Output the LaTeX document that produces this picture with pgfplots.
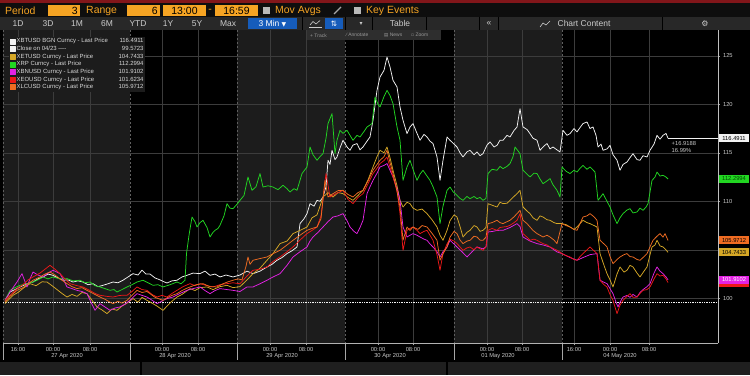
\documentclass[border=0pt]{standalone}
\usepackage{pgfplots}
\pgfplotsset{compat=1.18}
\usepackage{fontspec}
\setmainfont{Liberation Sans}
\newfontfamily\dejavu{DejaVu Sans}
\definecolor{bbgray}{RGB}{28,28,28}
\definecolor{tbone}{RGB}{14,14,14}
\definecolor{tbtwo}{RGB}{40,40,40}
\definecolor{amber}{RGB}{246,164,35}
\definecolor{bblue}{RGB}{22,92,186}
\definecolor{bbred}{RGB}{130,22,26}
\definecolor{cwhite}{RGB}{242,242,242}
\definecolor{cgreen}{RGB}{34,214,34}
\definecolor{cyellow}{RGB}{214,168,38}
\definecolor{cmag}{RGB}{228,34,228}
\definecolor{cred}{RGB}{236,24,24}
\definecolor{corange}{RGB}{240,108,34}
\definecolor{gridc}{RGB}{60,60,60}
\definecolor{sepc}{RGB}{95,95,95}
\definecolor{labc}{RGB}{200,200,200}
\begin{document}
\begin{tikzpicture}
% ---------- background, bands, separators (pixel coordinates, y down)
\begin{scope}[x=1bp,y=-1bp,shift={(0bp,375bp)}]
\useasboundingbox (0,0) rectangle (750,375);
\fill[black] (0,0) rectangle (750,375);
\fill[bbgray] (3,30) rectangle (130,343);
\fill[bbgray] (237,30) rectangle (345,343);
\fill[bbgray] (454,30) rectangle (562,343);
\foreach \xx in {3,130,237,345,454,562}{
  \draw[sepc, dashed, dash pattern=on 2bp off 2bp, line width=0.5pt] (\xx,30) -- (\xx,343);
  \draw[gray!70, line width=0.5pt] (\xx,343) -- (\xx,360);
}
\end{scope}
% ---------- chart
\begin{axis}[
  at={(3bp,32bp)}, anchor=south west,
  scale only axis, width=715bp, height=313bp,
  xmin=3, xmax=718, ymin=95.392, ymax=127.66,
  axis x line*=bottom, axis y line*=right,
  x axis line style={draw=gray!60, line width=0.5pt, -},
  y axis line style={draw=white!75!black, line width=0.6pt, -},
  clip mode=individual,
  xtick={18,53,90,162,198,270,306,378,413,487,522,574,610,649},
  xticklabels={16:00,00:00,08:00,00:00,08:00,00:00,08:00,00:00,08:00,00:00,08:00,16:00,00:00,08:00},
  ytick={100,105,110,115,120,125},
  yticklabels={100,,110,115,120,125},
  tick align=outside, major tick length=2bp,
  tick style={draw=gray!70, line width=0.4pt},
  xmajorgrids, ymajorgrids, grid style={draw=gridc, line width=0.4pt},
  ticklabel style={font=\fontsize{5.8}{6.5}\selectfont, text=labc},
  x tick label style={yshift=1bp},
  y tick label style={xshift=-0.5bp},
  /pgf/number format/assume math mode=true,
  legend style={at={(0.008,0.979)}, anchor=north west, fill=bbgray, draw=none,
    font=\fontsize{6}{7}\selectfont, text=white!85!black,
    inner sep=1bp, row sep=0bp, nodes={inner sep=0.9bp}},
  legend cell align=left,
  legend image code/.code={\fill[solid] (0bp,-2.5bp) rectangle (5bp,2.5bp);},
  every axis plot/.append style={line width=0.75pt, line join=round},
]
\addplot[color=cwhite] coordinates {
(5,99.79)(10,100.65)(15,100.9)(20,101.17)(27,101.5)(33,101.68)(38,102.0)(43,102.20)(48,102.5)(53,102.37)(58,102.1)(63,101.86)(68,101.9)(73,101.68)(78,101.8)(83,101.68)(88,101.4)(93,101.51)(98,101.2)(103,101.34)(108,101.5)(113,101.68)(118,101.6)(123,101.86)(128,102.2)(133,102.54)(138,102.4)(142,102.9)(146,102.5)(150,102.5)(155,102.1)(160,101.9)(164,101.7)(167,101.58)(172,101.8)(177,101.86)(182,102.2)(187,102.37)(193,102.6)(200,102.54)(205,102.8)(210,102.37)(215,102.5)(220,102.2)(226,102.4)(233,102.2)(240,102.4)(247,102.8)(253,102.54)(260,102.8)(267,103.23)(272,103.5)(277,103.92)(282,104.2)(287,104.61)(292,104.9)(297,105.29)(300,107.7)(304,108.2)(307,108.73)(310,109.76)(314,109.5)(317,110.1)(320,110.0)(323,110.44)(326,111.5)(328,114.23)(330,113.8)(332,115.26)(335,114.3)(337,114.57)(340,115.5)(343,116.29)(347,115.6)(350,115.26)(353,115.8)(357,115.95)(360,115.3)(363,115.6)(367,116.2)(370,116.63)(373,118.35)(377,121.44)(380,122.81)(384,123.5)(387,124.88)(390,123.85)(393,122.47)(397,121.79)(400,119.72)(403,118.35)(407,116.98)(410,117.66)(413,118.01)(417,117.0)(420,116.29)(424,116.9)(427,116.63)(430,116.2)(433,115.95)(437,114.57)(440,112.16)(443,114.23)(447,116.63)(450,116.29)(454,115.9)(457,115.6)(460,115.0)(463,114.57)(467,115.1)(470,115.26)(474,114.8)(477,115.09)(480,114.7)(483,114.91)(487,115.8)(490,116.12)(494,115.6)(497,115.77)(500,116.3)(503,116.29)(507,116.8)(510,116.63)(514,117.3)(517,117.66)(520,119.55)(523,117.66)(527,117.4)(530,116.98)(533,116.5)(537,116.29)(540,115.26)(544,115.7)(547,115.95)(550,115.4)(553,115.6)(557,115.3)(560,115.09)(563,117.32)(567,116.8)(570,116.98)(574,117.5)(577,117.15)(580,117.6)(583,118.01)(587,118.18)(590,117.5)(593,117.66)(596,116.8)(598,115.6)(601,115.9)(603,115.26)(607,115.4)(610,115.77)(613,114.8)(617,114.23)(620,113.2)(623,113.8)(627,114.05)(630,114.5)(633,114.91)(637,114.3)(640,114.23)(643,114.7)(647,114.57)(650,115.26)(654,115.9)(657,116.8)(660,116.4)(663,116.8)(666,117.0)(668,116.49)
};
\addlegendentry{\makebox[127bp][l]{XBTUSD BGN Curncy - Last Price\hfill 116.4911}}
\addplot[color=cwhite, densely dotted, line width=0.7pt] coordinates {(3,99.5723) (718,99.5723)};
\addlegendentry{\makebox[127bp][l]{Close on 04/23 ----\hfill 99.5723}}
\addplot[color=cyellow] coordinates {
(5,99.45)(9,99.9)(13,100.31)(18,100.6)(24,101.1)(30,101.51)(36,101.3)(42,101.7)(47,101.68)(52,101.3)(57,100.9)(62,100.5)(67,100.13)(72,100.4)(77,100.2)(82,100.6)(87,100.48)(92,99.8)(97,99.11)(102,98.8)(107,98.42)(112,98.9)(117,98.76)(122,99.2)(127,99.5)(133,99.97)(138,99.6)(142,100.1)(147,99.79)(152,99.5)(157,99.2)(163,98.76)(168,99.3)(172,99.7)(177,100.13)(182,100.4)(186,100.7)(190,101.00)(195,100.8)(200,101.1)(207,101.17)(213,100.9)(220,101.2)(227,101.34)(233,101.1)(240,101.2)(247,101.9)(253,102.54)(260,103.1)(267,103.92)(273,104.6)(280,105.64)(287,105.9)(293,106.67)(300,107.0)(307,107.35)(312,108.3)(317,108.6)(320,109.5)(323,110.44)(328,110.9)(333,110.44)(338,110.9)(343,110.79)(348,110.4)(353,110.10)(358,110.6)(363,111.13)(368,112.2)(373,113.54)(377,114.6)(380,115.26)(384,115.0)(387,115.60)(390,114.5)(393,113.20)(397,111.6)(400,110.10)(403,109.41)(407,109.9)(410,109.76)(413,109.3)(417,109.07)(422,109.2)(427,108.73)(432,108.1)(437,107.35)(440,106.5)(443,105.98)(447,107.0)(450,108.0)(454,108.6)(457,108.38)(460,107.4)(463,106.32)(467,106.8)(470,107.01)(474,107.5)(477,107.35)(480,106.9)(483,107.01)(486,107.3)(488,109.76)(492,109.6)(497,109.41)(500,109.9)(503,109.76)(507,109.8)(510,110.10)(514,110.5)(517,110.79)(520,111.13)(523,109.41)(527,109.0)(530,108.73)(533,108.3)(537,108.04)(540,108.5)(543,108.38)(547,108.1)(550,108.04)(554,107.8)(557,107.70)(562,107.70)(566,107.6)(570,107.35)(574,107.1)(577,107.35)(580,107.7)(583,108.04)(587,107.8)(590,107.70)(594,107.5)(597,107.35)(600,104.61)(604,103.4)(607,102.54)(610,101.9)(613,101.17)(617,102.5)(620,103.23)(624,102.7)(627,102.89)(630,103.4)(633,103.23)(637,102.6)(640,102.20)(644,102.8)(647,103.23)(650,104.5)(652,105.29)(655,105.5)(657,105.98)(660,105.4)(663,105.29)(666,105.0)(668,104.74)
};
\addlegendentry{\makebox[127bp][l]{XETUSD Curncy - Last Price\hfill 104.7433}}
\addplot[color=cgreen] coordinates {
(5,99.79)(10,100.82)(15,101.1)(20,101.34)(27,101.5)(33,101.68)(38,101.9)(43,102.20)(48,102.0)(53,102.20)(60,102.0)(67,102.03)(73,101.8)(80,101.86)(85,101.6)(90,101.68)(95,101.3)(100,101.17)(105,101.0)(110,100.82)(114,100.9)(117,100.65)(122,100.9)(127,101.17)(132,101.4)(137,101.68)(143,101.86)(148,101.6)(153,101.34)(158,101.4)(163,101.17)(170,101.4)(177,101.68)(181,101.5)(185,101.86)(186.5,104.61)(189,106.5)(192,108.38)(195,107.9)(197,107.35)(200,107.8)(203,108.04)(207,107.3)(210,106.32)(213,106.8)(215,107.01)(218,107.2)(220,107.53)(224,108.5)(227,109.76)(230,109.3)(233,109.24)(237,109.7)(240,110.10)(244,110.6)(248,112.51)(252,111.13)(256,111.5)(260,112.86)(263,111.47)(268,111.6)(273,111.47)(278,111.2)(283,111.65)(287,111.3)(290,110.96)(294,111.3)(297,111.13)(302,112.86)(307,113.54)(310,115.60)(313,114.8)(317,114.23)(320,114.6)(323,114.91)(326,116.5)(328,118.01)(332,119.04)(335,114.91)(337,116.3)(340,117.32)(343,117.0)(347,117.32)(350,116.8)(353,116.29)(357,116.8)(360,116.63)(364,117.2)(367,117.66)(372,118.01)(375,120.75)(378,120.0)(380,119.72)(384,120.8)(387,121.44)(390,120.9)(393,120.07)(397,117.66)(400,116.29)(403,112.16)(407,113.54)(410,114.23)(413,113.3)(417,112.16)(420,112.8)(423,113.20)(427,112.6)(430,112.16)(433,111.5)(437,110.44)(440,107.70)(443,109.5)(447,111.13)(450,111.47)(453,111.0)(457,110.62)(460,110.3)(463,110.10)(467,110.5)(470,110.27)(474,110.5)(477,110.27)(480,110.4)(483,110.10)(486,110.3)(488,112.86)(492,113.3)(497,113.20)(500,113.6)(503,113.37)(507,113.6)(510,113.89)(513,114.6)(515,115.60)(518,115.2)(520,114.91)(523,113.20)(527,112.8)(530,112.51)(534,112.9)(537,112.86)(540,112.3)(543,111.82)(547,112.1)(550,112.34)(553,111.7)(557,111.13)(560,110.44)(562,113.54)(566,113.1)(570,112.86)(574,113.2)(577,113.02)(580,113.4)(583,113.71)(587,113.3)(590,113.54)(595,113.02)(598,110.10)(601,110.5)(603,110.79)(607,110.0)(610,109.41)(613,108.6)(617,107.70)(620,108.3)(623,108.73)(627,109.1)(630,109.24)(633,108.8)(637,108.90)(640,109.3)(643,109.07)(646,109.4)(648,109.76)(652,112.16)(655,112.5)(657,113.02)(660,112.6)(663,112.68)(666,112.5)(668,112.30)
};
\addlegendentry{\makebox[127bp][l]{XRP Curncy - Last Price\hfill 112.2994}}
\addplot[color=cmag] coordinates {
(5,99.79)(11,100.8)(17,101.68)(22,102.54)(27,101.17)(30,102.0)(33,102.71)(38,102.4)(43,102.20)(48,102.6)(53,102.89)(57,102.7)(60,102.54)(64,101.8)(67,101.17)(72,101.0)(77,100.82)(82,100.7)(87,100.48)(91,99.6)(95,98.76)(100,99.45)(105,99.1)(110,98.76)(115,99.0)(120,99.11)(125,99.4)(130,99.79)(134,100.2)(137,100.48)(142,100.3)(147,100.13)(152,99.8)(157,99.45)(160,99.6)(163,99.79)(168,100.0)(173,100.13)(180,100.5)(187,100.82)(193,101.0)(200,101.17)(205,100.8)(210,100.48)(215,100.8)(220,101.0)(227,100.9)(233,100.82)(240,100.7)(247,101.17)(253,101.17)(260,101.5)(267,101.86)(273,102.2)(280,102.54)(287,103.4)(293,104.26)(300,104.8)(307,105.29)(310,105.9)(313,106.32)(318,106.8)(323,107.35)(328,107.9)(333,108.38)(338,108.5)(343,108.73)(347,108.0)(350,107.35)(354,106.9)(357,106.67)(360,107.3)(363,108.04)(367,110.79)(370,111.5)(373,112.16)(377,112.9)(380,113.54)(384,113.7)(387,113.89)(390,113.2)(393,112.51)(397,111.3)(400,110.10)(403,107.35)(407,106.32)(410,106.5)(413,106.67)(417,106.5)(420,106.32)(424,106.1)(427,105.98)(430,105.6)(433,105.29)(437,104.8)(440,104.26)(443,104.8)(447,105.29)(450,105.98)(454,105.6)(457,105.29)(462,104.8)(467,104.26)(472,104.8)(477,105.29)(483,105.1)(486,105.3)(488,106.84)(493,106.9)(497,107.0)(503,107.01)(510,107.3)(517,107.70)(520,107.4)(523,106.32)(530,105.9)(537,105.64)(543,105.5)(550,105.29)(557,104.78)(562,104.61)(570,104.2)(577,103.92)(583,104.2)(590,104.5)(597,104.61)(600,101.86)(603,101.7)(607,101.51)(610,101.0)(613,100.48)(616,99.6)(618,99.11)(620,99.6)(623,100.13)(627,100.3)(630,100.1)(633,100.4)(637,100.13)(640,100.6)(643,100.9)(647,101.2)(650,101.51)(654,102.6)(657,103.23)(660,102.8)(663,102.54)(666,102.2)(668,101.91)
};
\addlegendentry{\makebox[127bp][l]{XBNUSD Curncy - Last Price\hfill 101.9102}}
\addplot[color=cred] coordinates {
(5,99.79)(11,100.4)(17,101.0)(23,101.4)(28,101.9)(33,102.20)(40,102.6)(45,103.0)(50,103.40)(55,103.0)(60,102.54)(65,102.0)(70,101.51)(77,101.3)(83,101.17)(90,100.8)(95,100.5)(100,100.31)(107,100.2)(113,100.13)(120,100.3)(127,100.31)(132,100.7)(137,101.17)(142,100.9)(147,100.82)(152,100.4)(157,100.13)(162,100.3)(167,100.13)(172,100.5)(177,100.82)(183,101.2)(190,101.51)(195,101.3)(200,101.51)(207,101.3)(213,101.17)(220,101.4)(227,101.51)(233,101.6)(240,101.5)(247,102.3)(253,102.89)(260,103.0)(267,103.23)(273,103.8)(280,104.26)(287,104.8)(293,105.29)(300,106.0)(307,106.67)(312,107.0)(317,107.35)(321,108.5)(326,112.86)(330,110.44)(336,110.8)(343,111.13)(348,110.2)(353,109.76)(358,110.4)(363,110.79)(368,111.8)(373,112.86)(377,113.4)(380,113.89)(384,114.2)(387,114.57)(390,113.5)(393,112.51)(397,111.13)(400,108.73)(403,104.95)(407,107.01)(410,107.2)(413,107.35)(417,107.0)(420,106.67)(424,106.9)(427,107.01)(430,106.5)(433,105.98)(437,104.5)(440,102.89)(443,104.61)(447,105.6)(450,106.1)(454,105.9)(457,105.64)(460,105.3)(463,104.95)(467,105.2)(470,105.29)(474,105.0)(477,105.29)(480,105.1)(483,104.95)(486,105.3)(488,107.01)(492,107.2)(497,107.01)(500,107.3)(503,107.35)(507,107.4)(510,107.53)(514,107.8)(517,108.04)(520,108.73)(523,106.67)(527,106.3)(530,105.98)(534,106.1)(537,105.98)(540,105.8)(543,105.64)(547,105.5)(550,105.29)(554,105.1)(557,104.95)(562,104.61)(566,104.4)(570,104.26)(574,104.0)(577,103.92)(580,104.3)(583,104.61)(587,105.0)(590,105.29)(594,104.9)(597,104.61)(600,101.86)(604,101.4)(607,101.17)(610,100.4)(613,99.79)(617,98.42)(620,99.3)(623,99.79)(627,100.2)(630,100.48)(633,100.1)(637,100.13)(640,100.5)(643,100.82)(647,100.9)(650,101.17)(654,102.0)(657,102.54)(660,102.3)(663,102.37)(666,102.0)(668,101.62)
};
\addlegendentry{\makebox[127bp][l]{XEOUSD Curncy - Last Price\hfill 101.6234}}
\addplot[color=corange] coordinates {
(5,99.62)(10,100.2)(17,100.82)(23,101.1)(28,101.5)(33,101.86)(40,102.2)(45,102.5)(50,102.71)(55,102.4)(60,102.0)(67,101.51)(72,101.2)(77,101.0)(82,101.1)(87,100.82)(93,100.5)(100,100.13)(105,99.9)(110,99.6)(113,99.45)(118,99.7)(122,99.5)(127,99.79)(132,100.3)(137,100.82)(142,100.6)(147,100.7)(150,100.48)(155,100.1)(160,99.9)(163,99.79)(168,100.1)(172,100.3)(177,100.48)(182,100.8)(186,101.0)(190,101.17)(196,101.4)(203,101.51)(210,101.2)(217,101.17)(223,101.5)(228,101.7)(233,101.86)(238,102.0)(242,101.9)(246,103.3)(248,104.26)(250,103.5)(253,103.92)(260,104.1)(267,104.26)(273,104.6)(280,104.95)(287,105.5)(293,105.98)(300,106.5)(307,107.01)(312,107.2)(317,107.35)(321,108.2)(325,112.16)(328,110.44)(333,110.79)(338,111.1)(343,111.13)(348,110.7)(353,110.44)(358,110.9)(363,111.13)(368,112.1)(373,113.20)(377,113.8)(380,114.23)(384,114.6)(387,115.26)(390,114.0)(393,112.86)(397,111.0)(400,109.41)(403,105.98)(407,107.35)(410,107.0)(413,107.35)(418,107.1)(422,107.5)(427,107.35)(432,106.7)(437,105.98)(440,103.92)(443,104.6)(447,105.29)(450,106.3)(454,106.9)(457,106.67)(460,106.0)(463,105.64)(467,105.9)(470,105.98)(474,106.4)(477,106.32)(480,106.0)(483,105.98)(486,106.3)(488,107.70)(492,107.8)(497,108.04)(500,107.8)(503,107.70)(507,107.9)(510,108.04)(514,108.4)(517,108.73)(520,109.07)(523,108.04)(527,107.7)(530,107.35)(533,107.0)(537,106.67)(540,106.5)(543,106.32)(547,106.5)(550,106.32)(554,106.0)(557,105.64)(562,107.70)(566,107.5)(570,107.35)(574,107.1)(577,107.01)(580,107.7)(583,108.38)(587,108.5)(590,108.73)(594,108.4)(597,108.04)(600,105.98)(604,105.6)(607,105.29)(610,104.3)(613,103.57)(617,104.0)(620,104.26)(624,104.5)(627,104.61)(630,104.3)(633,104.26)(637,104.0)(640,103.92)(644,104.3)(647,104.61)(650,105.3)(653,105.98)(657,106.4)(660,106.67)(663,106.3)(665,106.67)(668,105.97)
};
\addlegendentry{\makebox[127bp][l]{XLCUSD Curncy - Last Price\hfill 105.9712}}
\addplot[color=cwhite, line width=0.8pt, forget plot] coordinates {(668,116.4911) (718,116.4911)};
\coordinate (Lw) at (axis cs:718,116.4911);
\coordinate (Lg) at (axis cs:718,112.2994);
\coordinate (Lo) at (axis cs:718,105.9712);
\coordinate (Ly) at (axis cs:718,104.7433);
\coordinate (Lm) at (axis cs:718,101.9102);
\coordinate (Lr) at (axis cs:718,101.6234);
\coordinate (Ann) at (axis cs:671,116.2);
\end{axis}
% ---------- overlays
\tikzset{vlab/.style={anchor=west, font=\fontsize{5.8}{6.5}\selectfont, inner sep=0.8bp, minimum width=30.5bp, minimum height=8bp, align=center}}
\fill[cred] ([xshift=0.6bp,yshift=-4bp]Lr) rectangle ([xshift=31.1bp,yshift=2bp]Lr);
\node[vlab, fill=cmag, text=white] at ([xshift=0.6bp]Lm) {101.9102};
\node[vlab, fill=cyellow, text=black] at ([xshift=0.6bp]Ly) {104.7433};
\node[vlab, fill=corange, text=black] at ([xshift=0.6bp]Lo) {105.9712};
\node[vlab, fill=cgreen, text=black!70!green] at ([xshift=0.6bp]Lg) {112.2994};
\node[vlab, fill=cwhite, text=black] at ([xshift=0.6bp]Lw) {116.4911};
\node[anchor=north west, font=\fontsize{5.8}{6.8}\selectfont, text=labc, align=left, inner sep=0.5bp] at (Ann) {+16.9188\\16.99\%};
\begin{scope}[x=1bp,y=-1bp,shift={(0bp,375bp)}]
% date labels
\foreach \xx/\dd in {67/27 Apr 2020,175/28 Apr 2020,282/29 Apr 2020,390/30 Apr 2020,498/01 May 2020,620/04 May 2020}{
  \node[font=\fontsize{5.8}{6.5}\selectfont, text=labc, inner sep=0pt] at (\xx,356) {\dd};
}
% bottom bar
\fill[black!88!white] (0,362) rectangle (750,375);
\draw[black, line width=1.2pt] (141,362) -- (141,375);
\draw[black, line width=1.2pt] (447,362) -- (447,375);
% toolbar rows
\fill[bbred] (0,0) rectangle (750,3.5);
\fill[tbone] (0,3.5) rectangle (750,17);
\fill[tbtwo] (0,17) rectangle (750,30);
\tikzset{tb/.style={font=\fontsize{10.5}{12}\selectfont, inner sep=0pt}}
\node[tb, anchor=west, text=amber] at (5,10.5) {Period};
\fill[amber] (48,5) rectangle (80,16);
\node[tb, anchor=east, text=black] at (78,10.5) {3};
\node[tb, anchor=west, text=amber] at (86,10.5) {Range};
\fill[amber] (127,5) rectangle (160,16);
\node[tb, anchor=east, text=black] at (158,10.5) {6};
\fill[amber] (163,5) rectangle (206,16);
\node[tb, text=black] at (184.5,10.5) {13:00};
\node[tb, text=amber] at (210,10.5) {-};
\fill[amber] (215,5) rectangle (258,16);
\node[tb, text=black] at (236.5,10.5) {16:59};
\fill[gray!55] (263,7) rectangle (270,14);
\node[tb, anchor=west, text=amber] at (275,10.5) {Mov Avgs};
\draw[gray!70, line width=1.2pt] (334,14) -- (341,7);
\fill[gray!55] (354,7) rectangle (361,14);
\node[tb, anchor=west, text=amber] at (366,10.5) {Key Events};
\tikzset{tb2/.style={font=\fontsize{8.5}{10}\selectfont, inner sep=0pt, text=white!80!black}}
\foreach \xx/\tt in {18/1D,48/3D,77/1M,107/6M,138/YTD,168/1Y,197/5Y,228/Max}{
  \node[tb2] at (\xx,23.5) {\tt};
}
\fill[bblue] (248,18.5) rectangle (297,29);
\node[tb2, text=white] at (272.5,23.7) {3 Min {\dejavu\fontsize{6}{7}\selectfont ▼}};
\draw[white!80!black, line width=0.6pt] (309,27.5) -- (322,27.5);
\draw[white!80!black, line width=0.6pt] (310,25) -- (313,21.5) -- (316,24) -- (320,20.5);
\fill[bblue] (325,18.5) rectangle (343,29);
\node[tb2, text=white] at (334,23.7) {{\dejavu\fontsize{7.5}{8}\selectfont ⇅}};
\node[tb2] at (361,23.7) {{\dejavu\fontsize{6}{7}\selectfont ▾}};
\foreach \xx in {302,345,372,426,479,498,662}{
  \draw[black, line width=0.8pt] (\xx,17) -- (\xx,30);
}
\node[tb2] at (400,23.5) {Table};
\node[tb2] at (489,23.3) {«};
\node[tb2] at (584,23.5) {Chart Content};
\draw[white!80!black, line width=0.6pt] (540,27) -- (543,23) -- (546,25) -- (550,21);
\node[tb2] at (705,23.5) {{\dejavu\fontsize{8}{9}\selectfont ⚙}};
% sub toolbar
\fill[black!82!white] (307,30.5) rectangle (441,40);
\tikzset{tb3/.style={font=\fontsize{5}{6}\selectfont, inner sep=0pt, text=white!60!black, anchor=west}}
\node[tb3] at (310,35.3) {+ Track};
\node[tb3] at (346,35.3) {{\dejavu\fontsize{4.5}{5}\selectfont ⁄} Annotate};
\node[tb3] at (384,35.3) {{\dejavu\fontsize{4.5}{5}\selectfont ▤} News};
\node[tb3] at (411,35.3) {{\dejavu\fontsize{4.5}{5}\selectfont ▫} Zoom};
\end{scope}
\end{tikzpicture}
\end{document}
